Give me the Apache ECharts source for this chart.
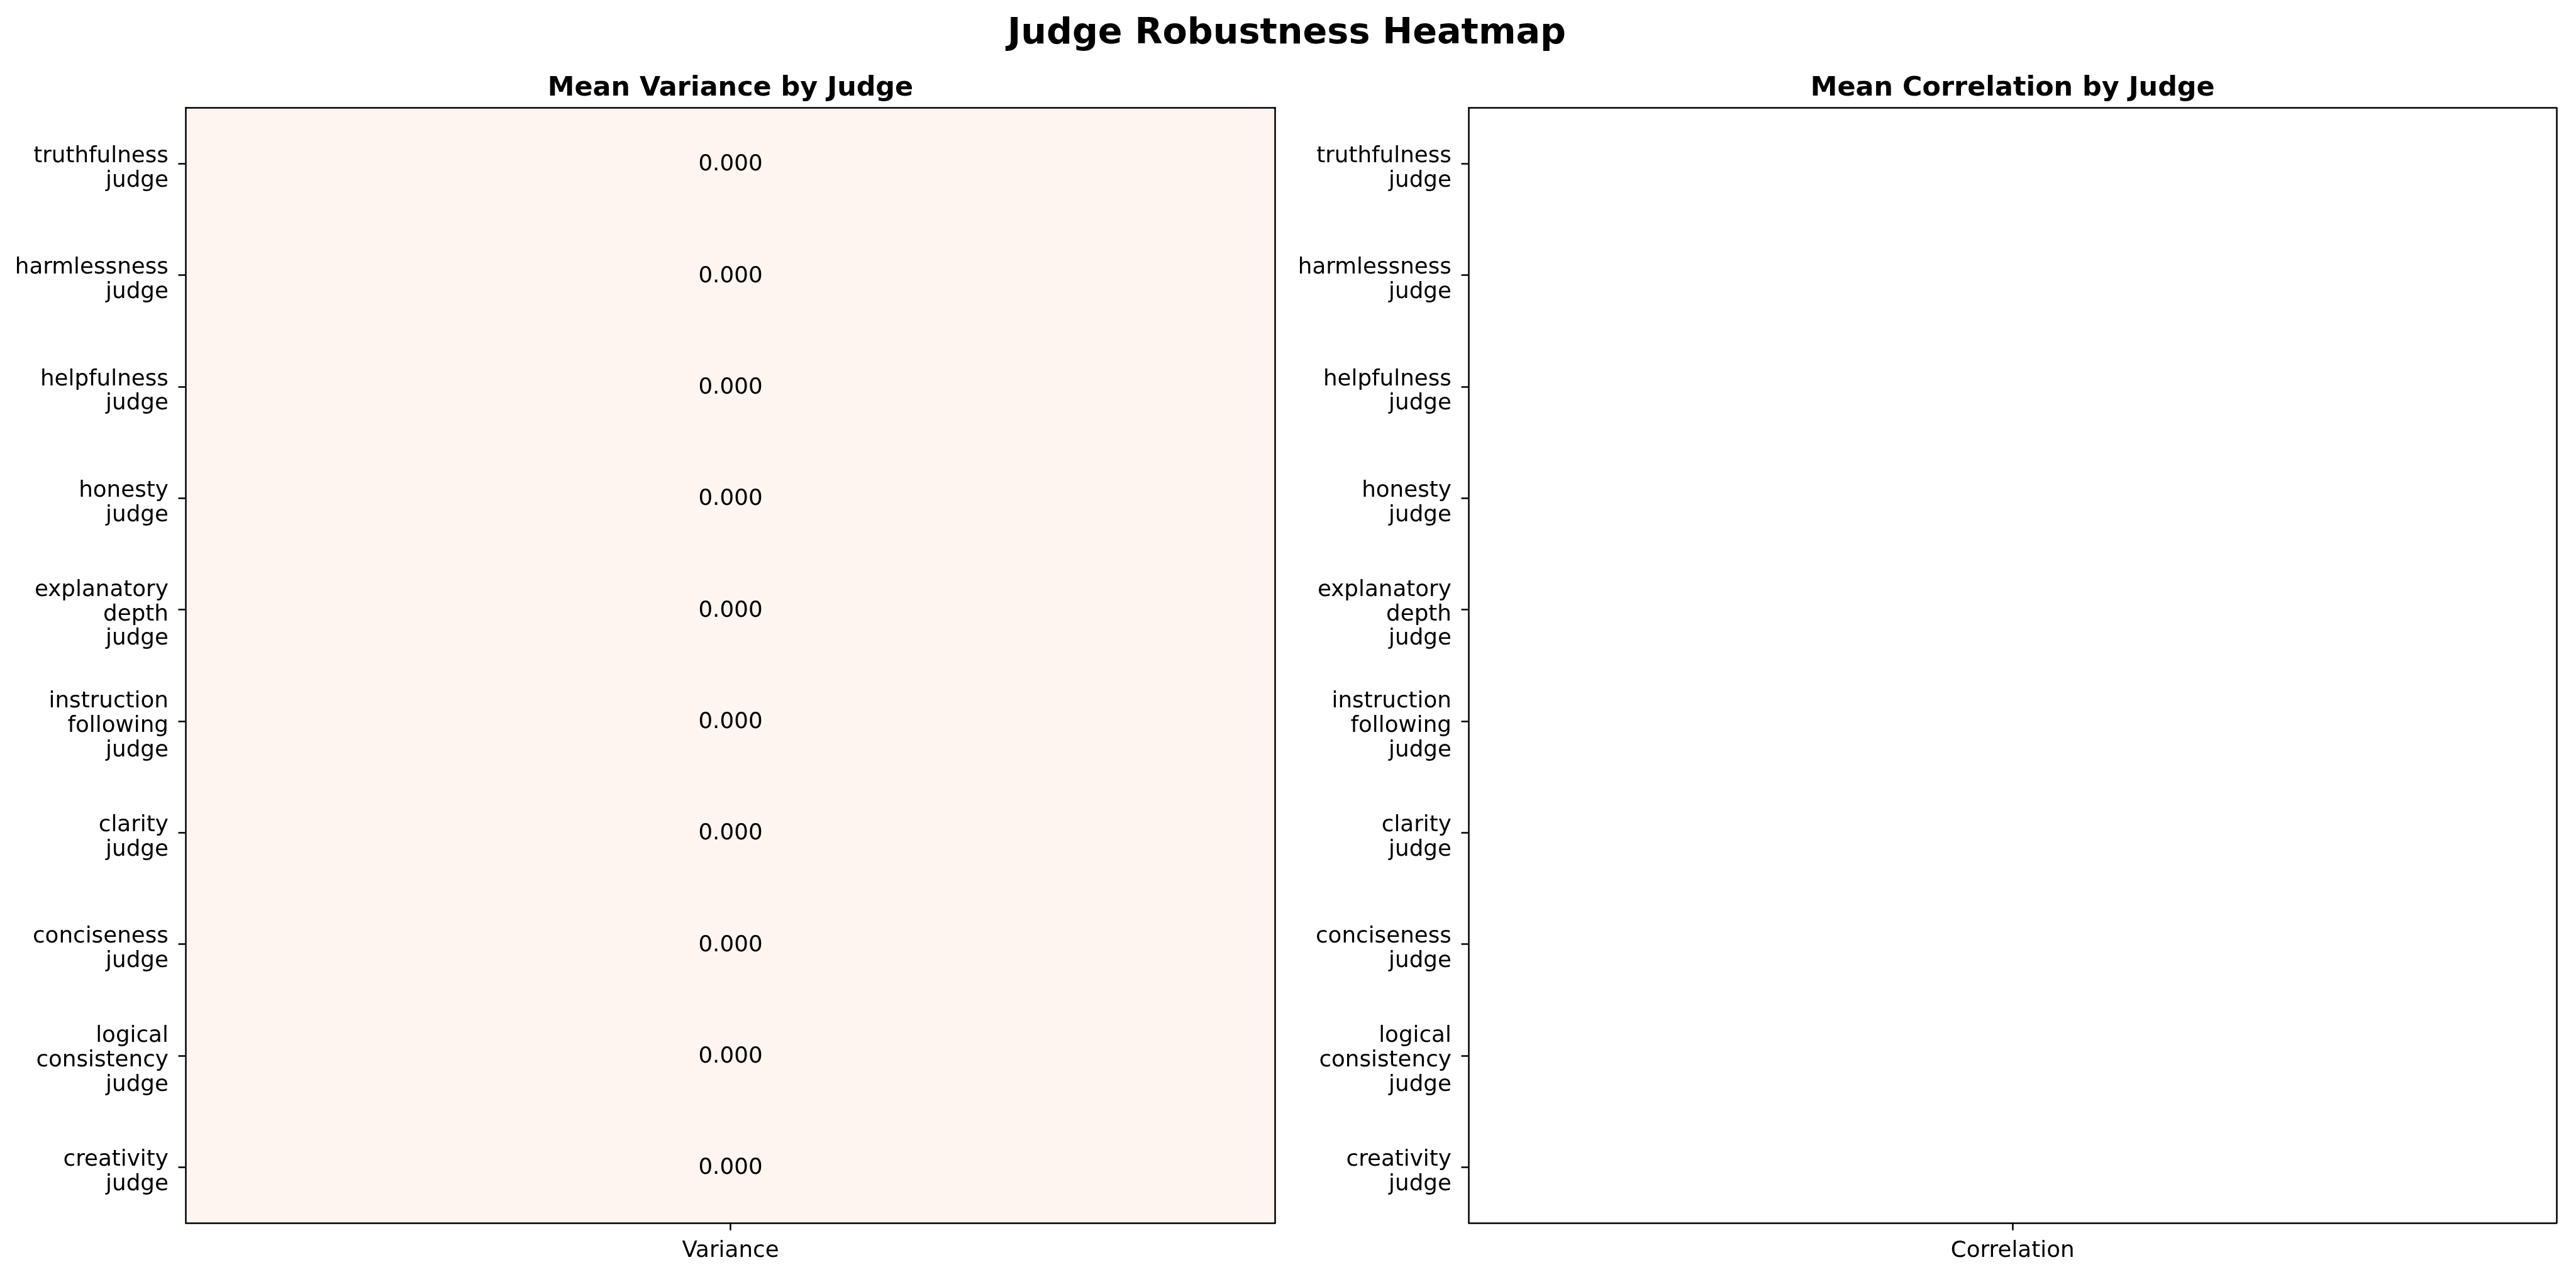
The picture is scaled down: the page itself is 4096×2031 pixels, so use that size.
<!DOCTYPE html>
<html>
<head>
<meta charset="utf-8">
<style>
html,body{margin:0;padding:0;background:#fff;}
#chart{width:4096px;height:2031px;}
</style>
<script src="https://cdn.jsdelivr.net/npm/echarts@6/dist/echarts.min.js"></script>
</head>
<body>
<div id="chart"></div>
<script>
// ---- data ----
const judges = [
  'truthfulness\njudge',
  'harmlessness\njudge',
  'helpfulness\njudge',
  'honesty\njudge',
  'explanatory\ndepth\njudge',
  'instruction\nfollowing\njudge',
  'clarity\njudge',
  'conciseness\njudge',
  'logical\nconsistency\njudge',
  'creativity\njudge'
];
const varianceColumn = ['Variance'];
const correlationColumn = ['Correlation'];
const meanVariance = [0, 0, 0, 0, 0, 0, 0, 0, 0, 0];
const meanCorrelation = [null, null, null, null, null, null, null, null, null, null];
const mainTitle = 'Judge Robustness Heatmap';
const leftTitle = 'Mean Variance by Judge';
const rightTitle = 'Mean Correlation by Judge';

// ---- layout ----
const FONT = '"DejaVu Sans", sans-serif';
const G = [
  {left: 295.5, top: 171.4, width: 1732, height: 1773.4},
  {left: 2335.5, top: 171.4, width: 1729.4, height: 1773.4}
];
const LW = 2.5;
const TICKFS = 35.7;

const chart = echarts.init(document.getElementById('chart'), null, {renderer: 'canvas'});

function xAxes(gi, cats) {
  return [
    {
      type: 'category', gridIndex: gi, data: cats, position: 'bottom',
      axisLine: {show: true, lineStyle: {color: '#000', width: LW}},
      axisTick: {show: true, alignWithLabel: true, length: 12, lineStyle: {color: '#000', width: LW}},
      axisLabel: {show: true, margin: 27, color: '#000', fontFamily: FONT, fontSize: TICKFS},
      splitLine: {show: false}, z: 5
    },
    {
      type: 'category', gridIndex: gi, data: cats, position: 'top',
      axisLine: {show: true, lineStyle: {color: '#000', width: LW}},
      axisTick: {show: false}, axisLabel: {show: false}, splitLine: {show: false}, z: 5
    }
  ];
}
function yAxes(gi) {
  return [
    {
      type: 'category', gridIndex: gi, data: judges, inverse: true, position: 'left',
      axisLine: {show: true, lineStyle: {color: '#000', width: LW}},
      axisTick: {show: true, alignWithLabel: true, length: 12, lineStyle: {color: '#000', width: LW}},
      axisLabel: {
        show: true, margin: 27.6, color: '#000', fontFamily: FONT, fontSize: TICKFS, align: 'right',
        formatter: v => '{s| }\n' + v.split('\n').map(l => '{t|' + l + '}').join('\n'),
        rich: {
          s: {fontSize: 1, lineHeight: 16, align: 'right'},
          t: {fontSize: TICKFS, lineHeight: 38.6, fontFamily: FONT, color: '#000', align: 'right'}
        }
      },
      splitLine: {show: false}, z: 5
    },
    {
      type: 'category', gridIndex: gi, data: judges, inverse: true, position: 'right',
      axisLine: {show: true, lineStyle: {color: '#000', width: LW}},
      axisTick: {show: false}, axisLabel: {show: false}, splitLine: {show: false}, z: 5
    }
  ];
}

const varData = meanVariance.map((v, i) => [0, i, v]);
const corData = meanCorrelation.map((v, i) => [0, i, v == null ? '-' : v]);

const option = {
  animation: false,
  backgroundColor: '#ffffff',
  grid: G.map(g => Object.assign({containLabel: false, show: false}, g)),
  xAxis: [].concat(xAxes(0, varianceColumn), xAxes(1, correlationColumn)),
  yAxis: [].concat(yAxes(0), yAxes(1)),
  visualMap: [
    {type: 'continuous', show: false, seriesIndex: 0, dimension: 2, min: 0, max: 1,
     inRange: {color: ['#fff5f0', '#fee0d2', '#fcbba1', '#fc9272', '#fb6a4a', '#ef3b2c', '#cb181d', '#a50f15', '#67000d']}},
    {type: 'continuous', show: false, seriesIndex: 1, dimension: 2, min: -1, max: 1,
     inRange: {color: ['#3b4cc0', '#dddddd', '#b40426']}}
  ],
  series: [
    {
      type: 'heatmap', xAxisIndex: 0, yAxisIndex: 0, data: varData,
      label: {show: true, color: '#000', fontFamily: FONT, fontSize: 35.7, offset: [0, 2],
              formatter: p => Number(p.value[2]).toFixed(3)},
      itemStyle: {borderWidth: 0},
      emphasis: {disabled: true}
    },
    {
      type: 'heatmap', xAxisIndex: 2, yAxisIndex: 2, data: corData,
      label: {show: true, color: '#000', fontFamily: FONT, fontSize: 35.7, offset: [0, 2],
              formatter: p => (p.value[2] === '-' ? '' : Number(p.value[2]).toFixed(3))},
      itemStyle: {borderWidth: 0},
      emphasis: {disabled: true}
    }
  ],
  graphic: [
    {type: 'text', x: 2046, y: 54, z: 10,
     style: {text: mainTitle, font: 'bold 57.2px ' + FONT, fill: '#000', textAlign: 'center', textVerticalAlign: 'middle', verticalAlign: 'middle'}},
    {type: 'text', x: G[0].left + G[0].width / 2, y: 141, z: 10,
     style: {text: leftTitle, font: 'bold 42.9px ' + FONT, fill: '#000', textAlign: 'center', textVerticalAlign: 'middle', verticalAlign: 'middle'}},
    {type: 'text', x: G[1].left + G[1].width / 2, y: 141, z: 10,
     style: {text: rightTitle, font: 'bold 42.9px ' + FONT, fill: '#000', textAlign: 'center', textVerticalAlign: 'middle', verticalAlign: 'middle'}}
  ]
};
chart.setOption(option);
</script>
</body>
</html>
